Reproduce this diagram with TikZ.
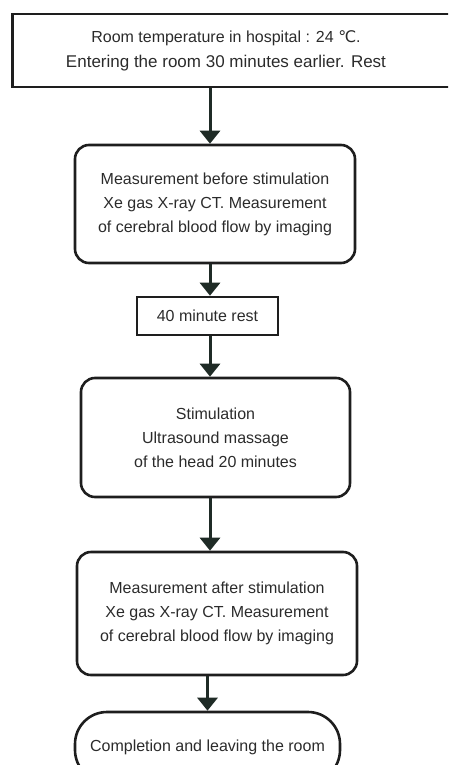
\documentclass[tikz,border=0pt]{standalone}
\usepackage{fontspec}
\setmainfont{Liberation Sans}
\newfontfamily\degfont{DejaVu Sans}
\usepackage{tikz}
\usetikzlibrary{arrows.meta}
\definecolor{ink}{HTML}{2B2B2B}
\definecolor{edge}{HTML}{1E1E1E}
\definecolor{shaft}{HTML}{1F2B26}
\tikzset{stage/.style={draw=edge,line width=2.6pt,rounded corners=14pt,align=center,text=ink,
 font=\fontsize{16}{24}\selectfont,inner sep=0pt},
 plain/.style={stage,sharp corners},
 hdr/.style={draw=edge,line width=2.6pt,text=ink,inner sep=0pt,font=\fontsize{17}{25}\selectfont},
 arr/.style={-{Triangle[length=13pt,width=20pt]},draw=shaft,line width=3pt}}

\begin{document}
\begin{tikzpicture}[x=1pt,y=-1pt]
\useasboundingbox (0,0) rectangle (448,765);
\clip (0,0) rectangle (448,765);
\coordinate (c) at (210,0);
\node[hdr,minimum width=447pt,minimum height=73pt] (t) at (236,50.5)
 {\begin{tabular}{@{}c@{}}{\fontsize{16}{25}\selectfont Room temperature in hospital : 24 {\degfont ℃}.}\\Entering the room 30 minutes earlier. Rest\end{tabular}\kern20pt};
\node[stage,minimum width=280pt,minimum height=118pt] (pre) at (215,204) {Measurement before stimulation\\Xe gas X-ray CT. Measurement\\of cerebral blood flow by imaging};
\node[plain,minimum width=141pt,minimum height=38pt] (rest) at (207.5,316) {40 minute rest};
\node[stage,minimum width=269pt,minimum height=119pt] (stim) at (215.5,437.5) {Stimulation\\Ultrasound massage\\of the head 20 minutes};
\node[stage,minimum width=280pt,minimum height=123pt] (post) at (217,613.5) {Measurement after stimulation\\Xe gas X-ray CT. Measurement\\of cerebral blood flow by imaging};
\node[stage,rounded corners=32pt,minimum width=265pt,minimum height=70pt] (fin) at (207.5,747) {Completion and leaving the room};
\draw[arr] (t.south -| c) -- (pre.north -| c);
\draw[arr] (pre.south -| c) -- (rest.north -| c);
\draw[arr] (rest.south -| c) -- (stim.north -| c);
\draw[arr] (stim.south -| c) -- (post.north -| c);
\draw[arr] (post.south -| fin.north) -- (fin.north);
\end{tikzpicture}
\end{document}
